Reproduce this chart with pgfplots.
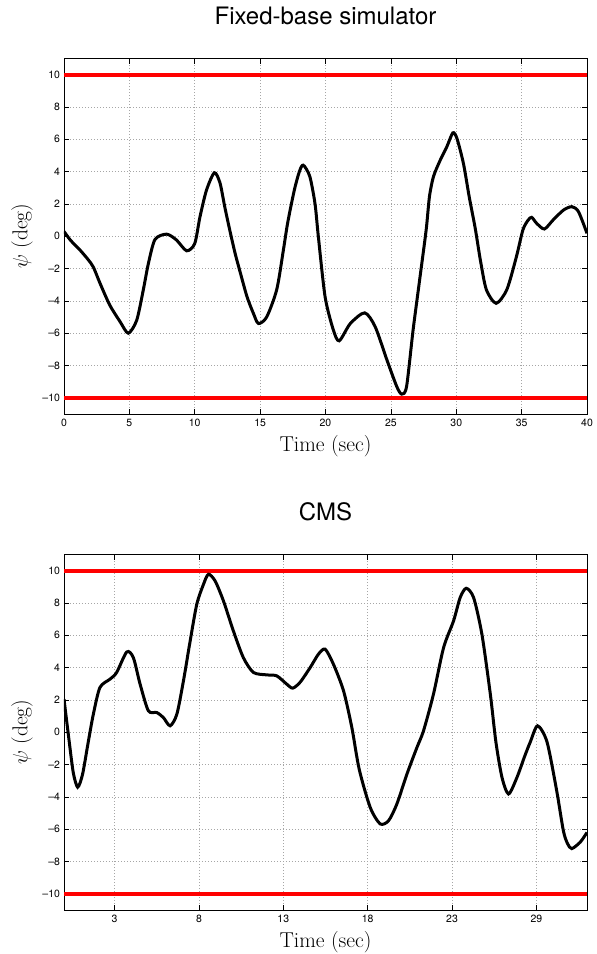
\documentclass[border=0pt]{standalone}
\usepackage{pgfplots}
\pgfplotsset{compat=1.18}
\usepackage{fontspec}
\newfontfamily\hel{TeX Gyre Heros}

\pgfplotsset{
  psiaxis/.style={
    width=523pt, height=355.5pt, scale only axis,
    ymin=-11, ymax=11,
    ytick={-10,-8,...,10},
    yticklabels={\textendash 10,\textendash 8,\textendash 6,\textendash 4,\textendash 2,0,2,4,6,8,10},
    grid=major,
    major grid style={line width=0.6pt, gray!70, dash pattern=on 0.6pt off 2.4pt},
    axis line style={line width=0.8pt},
    tick style={black, line width=0.6pt},
    major tick length=5pt,
    tick label style={font=\hel\fontsize{10.5}{12}\selectfont},
    /pgf/number format/assume math mode=true,
    xticklabel style={yshift=-2pt},
    yticklabel style={xshift=-0.5pt},
    title style={font=\hel\fontsize{24}{28}\selectfont, at={(axis description cs:0.5,1)}, anchor=base, yshift=28.5pt},
    xlabel style={font=\fontsize{21.5}{25}\selectfont, at={(axis description cs:0.5,0)}, anchor=base, yshift=-37.7pt},
    ylabel style={font=\fontsize{21.5}{25}\selectfont, at={(axis description cs:-0.0803,0.5)}, anchor=center},
    xlabel={Time (sec)},
    ylabel={$\psi$ (deg)},
  },
  limit/.style={red, line width=4pt},
  trace/.style={black, line width=3pt, smooth, tension=0.45},
}

\begin{document}
\begin{tikzpicture}

% top: fixed-base simulator
\begin{axis}[psiaxis, at={(0,0)}, anchor=south west,
  xmin=0, xmax=40, xtick={0,5,...,40},
  title={Fixed-base simulator}]
\addplot[limit] coordinates {(0,10) (40,10)};
\addplot[limit] coordinates {(0,-10) (40,-10)};
\addplot[trace] coordinates {
 (0,0.3) (0.5,-0.25) (1.22,-0.85) (1.8,-1.4) (2.24,-1.9) (2.75,-2.9)
 (3.5,-4.26) (4.3,-5.3) (4.92,-6.0) (5.56,-5.2) (6.07,-3.3) (6.45,-1.7)
 (6.96,-0.2) (7.85,0.13) (8.6,-0.23) (9.38,-0.9) (10,-0.45) (10.4,1.2)
 (10.9,2.86) (11.5,3.93) (11.93,3.3) (12.3,1.8) (12.7,0.3) (13.1,-1.1)
 (13.5,-2.3) (14,-3.75) (14.5,-4.8) (14.87,-5.4) (15.5,-5.0) (16.27,-3.3)
 (16.78,-0.85) (17.1,0.8) (17.6,2.8) (18.0,4.0) (18.3,4.4) (18.8,3.7)
 (19.2,2.0) (19.45,0.0) (19.97,-3.75) (20.6,-5.8) (21.05,-6.47) (21.9,-5.4)
 (23.0,-4.74) (23.8,-5.6) (24.7,-7.66) (25.45,-9.3) (25.83,-9.77) (26.2,-9.3)
 (26.7,-5.8) (27.2,-2.7) (27.7,0.4) (27.95,2.45) (28.26,3.7) (28.77,4.7)
 (29.28,5.54) (29.74,6.4) (30.05,6.06) (30.55,4.5) (31.0,2.4) (31.45,0.5)
 (31.85,-1.5) (32.3,-3.3) (33.05,-4.15) (33.87,-3.3) (34.6,-1.27) (35.1,0.4)
 (35.5,1.0) (35.77,1.17) (36.15,0.8) (36.74,0.45) (37.4,1.0) (38.2,1.62)
 (38.84,1.83) (39.35,1.52) (40,0.18)
};
\end{axis}

% bottom: CMS
\begin{axis}[psiaxis, at={(0,-496pt)}, anchor=south west,
  xmin=0, xmax=31, xtick={3,8,13,18,23,28},
  xticklabels={3,8,13,18,23,29},
  title={CMS}]
\addplot[limit] coordinates {(0,10) (31,10)};
\addplot[limit] coordinates {(0,-10) (31,-10)};
\addplot[trace] coordinates {
 (0,2.05) (0.3,-0.5) (0.55,-2.5) (0.81,-3.4) (1.1,-2.6) (1.45,-0.53)
 (1.74,1.12) (2.13,2.77) (2.73,3.29) (3.12,3.7) (3.72,4.97) (4.11,4.62)
 (4.51,2.98) (5.0,1.33) (5.5,1.22) (5.89,0.91) (6.29,0.4) (6.69,1.12)
 (7.08,3.18) (7.48,5.66) (7.87,7.92) (8.27,9.16) (8.56,9.78) (8.96,9.36)
 (9.45,8.13) (10.04,6.27) (10.63,4.62) (11.23,3.7) (12.02,3.55) (12.61,3.49)
 (13.2,2.98) (13.56,2.73) (14.0,3.1) (14.59,4.0) (15.08,4.83) (15.48,5.14)
 (15.97,4.21) (16.57,2.56) (17.06,0.3) (17.5,-2.3) (18.15,-4.65) (18.74,-5.67)
 (19.24,-5.47) (19.73,-4.44) (20.33,-2.58) (20.92,-0.94) (21.31,0.09) (21.9,2.36)
 (22.5,5.24) (23.09,6.89) (23.48,8.33) (23.84,8.91) (24.28,8.33) (24.77,6.07)
 (25.27,2.36) (25.6,-0.6) (25.96,-2.79) (26.35,-3.82) (26.85,-2.79) (27.3,-1.5)
 (27.64,-0.6) (28.07,0.4) (28.63,-0.6) (29.2,-3.6) (29.6,-6.1) (29.85,-6.9)
 (30.1,-7.2) (30.6,-6.8) (31.0,-6.2)
};
\end{axis}

\pgfresetboundingbox
\useasboundingbox (-64pt,414pt) rectangle (533pt,-540pt);
\end{tikzpicture}
\end{document}
